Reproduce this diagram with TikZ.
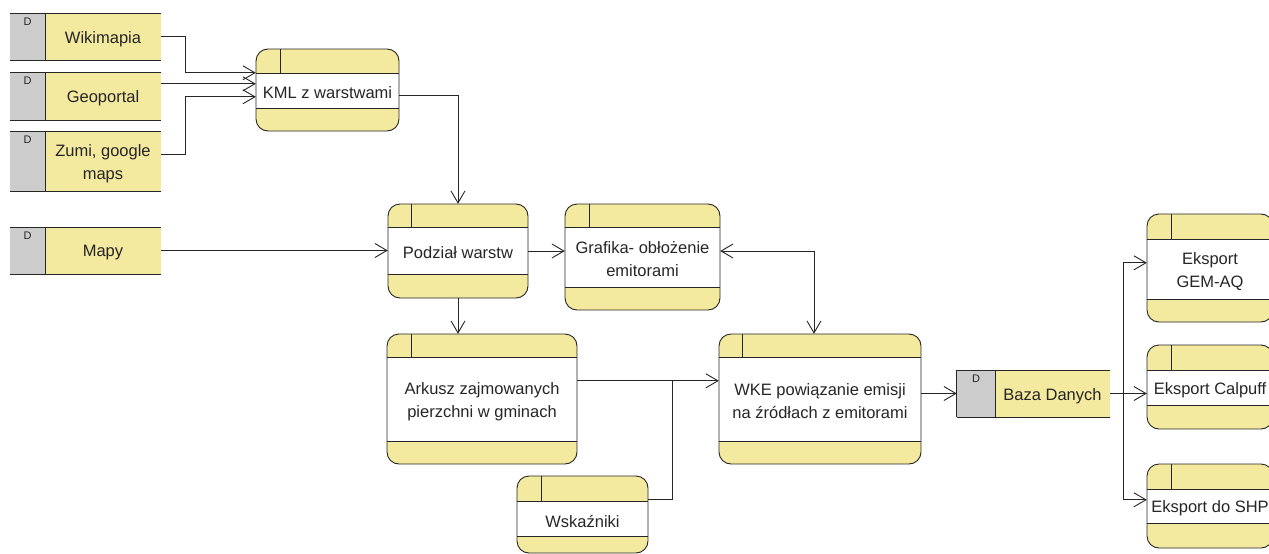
\documentclass[tikz,border=0pt]{standalone}
\usepackage{fontspec}
\setmainfont{Liberation Sans}
\usetikzlibrary{arrows.meta,calc}
\definecolor{procyellow}{RGB}{243,233,159}
\definecolor{storegray}{RGB}{204,204,204}
\definecolor{ink}{RGB}{38,38,38}
\tikzset{
  >={Straight Barb[length=12pt,width=14pt]},
  txt/.style={font=\fontsize{16.5}{23}\selectfont, text=ink, align=center, inner sep=0pt, yshift=-2.5pt},
  dlabel/.style={font=\fontsize{11}{12}\selectfont, text=ink, inner sep=0pt, yshift=-1pt},
  frame/.style={draw=ink, line width=0.9pt},
  conn/.style={draw=ink, line width=0.9pt, ->},
  biconn/.style={draw=ink, line width=0.9pt, <->},
  plainconn/.style={draw=ink, line width=0.9pt},
}
% process box: name, x1, y1, x2, y2, band1, band2, divider x, text
\newcommand\procbox[9]{%
  \node[fill=procyellow, rounded corners=12pt, inner sep=0pt,
        minimum width={(#4)-(#2)}, minimum height={(#5)-(#3)}]
        (#1) at ({((#2)+(#4))/2},{((#3)+(#5))/2}) {};
  \fill[white] (#2,#6) rectangle (#4,#7);
  \draw[frame] (#2,#6) -- (#4,#6) (#2,#7) -- (#4,#7) (#8,#3) -- (#8,#6);
  \draw[frame, rounded corners=12pt] (#2,#3) rectangle (#4,#5);
  \node[txt] (#1t) at ({((#2)+(#4))/2},{((#6)+(#7))/2}) {#9};
}
% data store: name, x1, y1, x2, y2, gray x, text
\newcommand\storebox[7]{%
  \fill[procyellow] (#6,#3) rectangle (#4,#5);
  \fill[storegray] (#2,#3) rectangle (#6,#5);
  \draw[frame] (#2,#3) -- (#4,#3) (#2,#5) -- (#4,#5) (#6,#3) -- (#6,#5);
  \node[inner sep=0pt, minimum width={(#4)-(#2)}, minimum height={(#5)-(#3)}]
        (#1) at ({((#2)+(#4))/2},{((#3)+(#5))/2}) {};
  \node[txt] (#1t) at ({((#6)+(#4))/2},{((#3)+(#5))/2}) {#7};
  \node[dlabel] (#1d) at ({((#2)+(#6))/2},{(#3)+8}) {D};
}
\begin{document}
\begin{tikzpicture}[x=1pt,y=-1pt]
\useasboundingbox (0,0) rectangle (1269,554);
\clip (0,0) rectangle (1269,554);
\fill[white] (0,0) rectangle (1269,554);

% data stores
\storebox{wiki}{10}{13}{161}{60}{45}{Wikimapia}
\storebox{geo}{10}{72}{161}{120}{45}{Geoportal}
\storebox{zumi}{10}{131}{161}{191}{45}{Zumi, google\\maps}
\storebox{mapy}{10}{227}{161}{274}{45}{Mapy}
\storebox{baza}{957}{370}{1110}{417}{995}{Baza Danych}
\draw[frame] (baza.north west) -- (baza.south west);

% processes
\procbox{kml}{256}{49}{399}{131}{73}{108}{280}{KML z warstwami}
\procbox{pod}{388}{204}{528}{298}{227}{274}{411}{Podział warstw}
\procbox{graf}{565}{204}{720}{310}{227}{287}{589}{Grafika- obłożenie\\emitorami}
\procbox{ark}{387}{334}{577}{464}{357}{441}{411}{Arkusz zajmowanych\\pierzchni w gminach}
\procbox{wke}{719}{334}{921}{464}{357}{441}{742}{WKE powiązanie emisji\\na źródłach z emitorami}
\procbox{wsk}{517}{476}{648}{553}{501}{536}{541}{Wskaźniki}
\procbox{gem}{1147}{214}{1273}{322}{239}{299}{1171}{Eksport\\GEM-AQ}
\procbox{cal}{1147}{345}{1273}{429}{370}{405}{1171}{Eksport Calpuff}
\procbox{shp}{1147}{464}{1273}{548}{489}{523}{1171}{Eksport do SHP}

% connectors
\draw[conn] (wiki.east) -- ++(24,0) |- ($(kml.north west)+(0,24)$);
\draw[conn] ($(geo.north east)+(0,12)$) -- ($(kml.north west)+(0,35)$);
\draw[conn] ($(zumi.north east)+(0,24)$) -- ++(24,0) |- ($(kml.north west)+(0,48)$);
\draw[conn] ($(kml.north east)+(0,47)$) -| (pod.north);
\draw[conn] (mapy.east) -- (mapy.east -| pod.west);
\draw[conn] (pod.east) -- (pod.east -| graf.west);
\draw[conn] (pod.south) -- (pod.south |- ark.north);
\draw[biconn] (pod.east -| graf.east) -| ($(wke.north)+(-6,0)$);
\draw[conn] ($(ark.north east)+(0,47)$) -- ($(wke.north west)+(0,47)$);
\draw[plainconn] ($(wsk.north east)+(0,24)$) -| ($(ark.north east)+(95,47)$);
\draw[conn] (wke.east |- baza.west) -- (baza.west);
\coordinate (split) at ($(baza.east)+(13,0)$);
\draw[conn] (baza.east) -- (split) |- ($(gem.north west)+(0,49)$);
\draw[conn] (split) -- (split -| cal.west);
\draw[conn] (split) |- ($(shp.north west)+(0,36)$);
\end{tikzpicture}
\end{document}
